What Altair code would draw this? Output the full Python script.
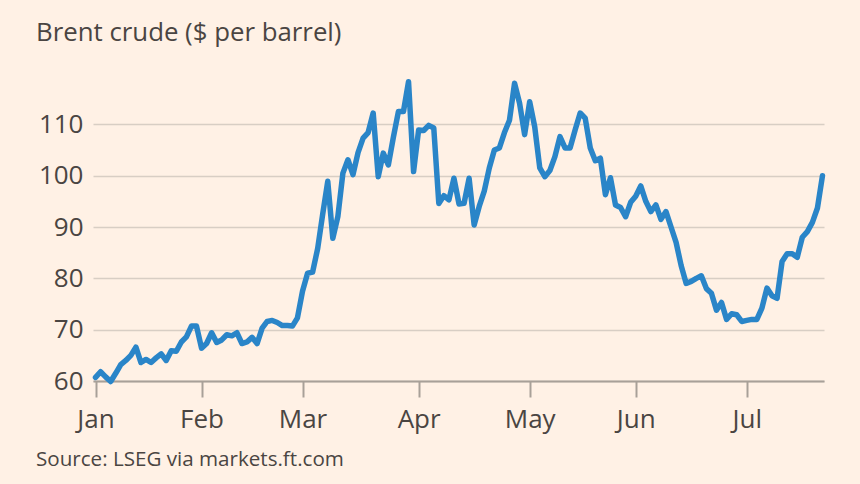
import altair as alt
import pandas as pd

# Brent crude, daily closes by trading day
prices = [
    60.7, 61.8, 60.8, 59.9, 61.5, 63.2, 64.0, 65.0, 66.6, 63.6,
    64.2, 63.6, 64.5, 65.3, 64.0, 65.9, 65.8, 67.6, 68.6, 70.7,
    70.7, 66.4, 67.3, 69.4, 67.5, 68.0, 69.0, 68.8, 69.4, 67.3,
    67.6, 68.5, 67.3, 70.3, 71.6, 71.8, 71.4, 70.8, 70.8, 70.7,
    72.3, 77.5, 81.0, 81.2, 85.8, 92.5, 98.9, 87.8, 92.0, 100.5,
    103.1, 100.2, 104.5, 107.3, 108.4, 112.2, 99.8, 104.4, 102.1, 107.5,
    112.5, 112.5, 118.3, 100.8, 108.9, 108.8, 109.8, 109.3, 94.6, 96.1,
    95.3, 99.5, 94.5, 94.6, 99.5, 90.4, 94.0, 97.0, 101.5, 105.0,
    105.4, 108.4, 110.8, 118.0, 114.1, 108.0, 114.4, 109.5, 101.5, 99.8,
    101.0, 103.7, 107.6, 105.4, 105.4, 108.9, 112.2, 111.2, 105.4, 102.9,
    103.4, 96.3, 99.6, 94.3, 93.8, 92.0, 94.8, 96.0, 98.0, 95.0,
    93.0, 94.3, 91.5, 93.0, 90.0, 87.0, 82.5, 79.0, 79.4, 80.0,
    80.5, 78.0, 77.1, 73.8, 75.3, 72.0, 73.1, 72.9, 71.6, 71.8,
    72.0, 72.0, 74.2, 78.1, 76.6, 76.1, 83.3, 84.8, 84.8, 84.1,
    88.0, 89.1, 90.9, 93.7, 100.0,
]

# first trading day of each month
month_labels = ["Jan", "Feb", "Mar", "Apr", "May", "Jun", "Jul"]
month_starts = [0, 21, 41, 64, 86, 107, 129]

y_ticks = [60, 70, 80, 90, 100, 110]

df = pd.DataFrame({"day": list(range(len(prices))), "price": prices})

label_expr = "".join(
    f"datum.value == {d} ? '{m}' : " for d, m in zip(month_starts, month_labels)
) + "''"

FONT = "Open Sans"
TEXT = "#4a4542"
BG = "#fff1e5"

line = alt.Chart(df).mark_line(
    color="#2a85c8", strokeWidth=5.5, strokeCap="round", strokeJoin="round"
).encode(
    x=alt.X(
        "day:Q",
        scale=alt.Scale(domain=[-0.5, 144.3], nice=False, zero=False),
        axis=alt.Axis(
            values=month_starts,
            labelExpr=label_expr,
            title=None,
            grid=False,
            domain=True,
            domainColor="#a8a098",
            domainWidth=2,
            ticks=True,
            tickColor="#a8a098",
            tickWidth=2,
            tickSize=16,
            labelFont=FONT,
            labelFontSize=26,
            labelColor=TEXT,
            labelPadding=9,
            zindex=0,
        ),
    ),
    y=alt.Y(
        "price:Q",
        scale=alt.Scale(domain=[60, 120], nice=False, zero=False),
        axis=alt.Axis(
            values=y_ticks,
            title=None,
            grid=True,
            gridColor="#d8cec4",
            gridWidth=1.5,
            domain=False,
            ticks=False,
            labelFont=FONT,
            labelFontSize=26,
            labelColor=TEXT,
            labelPadding=10,
            zindex=0,
        ),
    ),
)

title = alt.Chart(pd.DataFrame({"t": ["Brent crude ($ per barrel)"]})).mark_text(
    align="left", baseline="alphabetic", font=FONT, fontSize=25.8, color=TEXT
).encode(x=alt.value(-57), y=alt.value(-32), text="t:N")

source = alt.Chart(pd.DataFrame({"t": ["Source: LSEG via markets.ft.com"]})).mark_text(
    align="left", baseline="alphabetic", font=FONT, fontSize=20.6, color=TEXT
).encode(x=alt.value(-57), y=alt.value(393), text="t:N")

chart = (
    alt.layer(line, title, source)
    .properties(
        width=731,
        height=308,
        background=BG,
        padding={"left": 93, "top": 73, "right": 36, "bottom": 103},
        autosize=alt.AutoSizeParams(type="none"),
    )
    .configure_view(stroke=None)
)

chart.save("out.html", embed_options={"renderer": "svg", "actions": False})
